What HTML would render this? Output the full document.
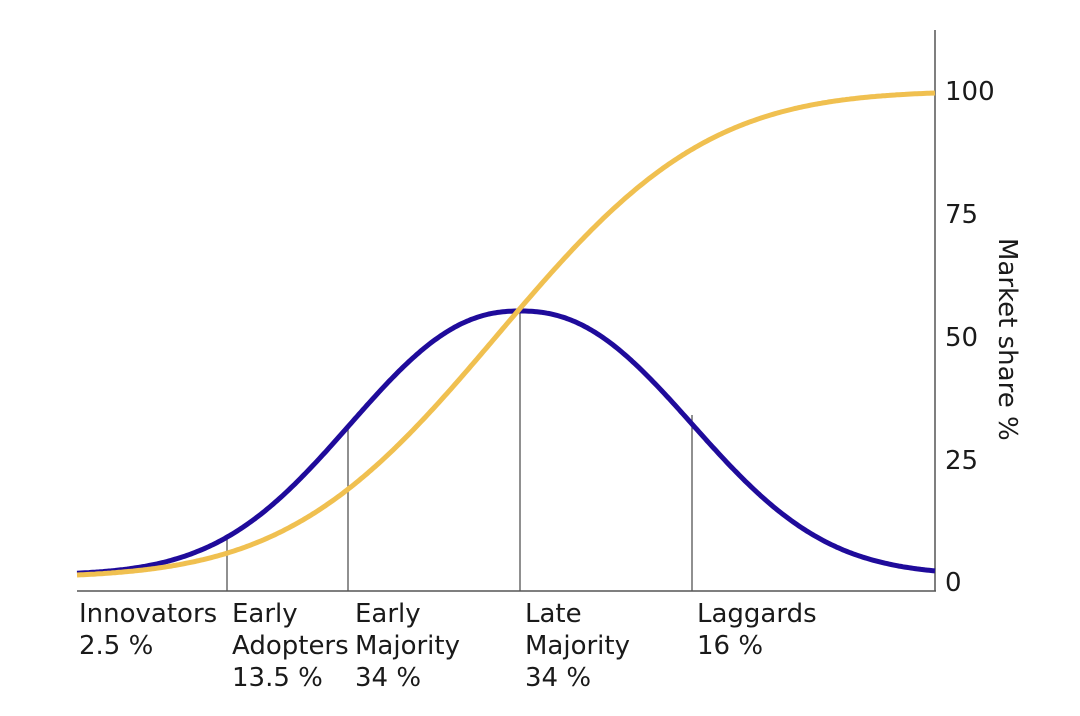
<!DOCTYPE html>
<html><head><meta charset="utf-8"><style>
html,body{margin:0;padding:0;background:#fff;}
svg{display:block;}
text{font-family:"DejaVu Sans","Liberation Sans",sans-serif;font-size:26px;fill:#1a1a1a;}
</style></head><body>
<svg id="s" width="1080" height="716" viewBox="0 0 1080 716" xmlns="http://www.w3.org/2000/svg">
<line x1="77" y1="591" x2="936" y2="591" stroke="#555" stroke-width="1.5"/>
<line x1="935" y1="30" x2="935" y2="591" stroke="#555" stroke-width="1.5"/>
<line x1="227" y1="535" x2="227" y2="591" stroke="#555" stroke-width="1.3"/>
<line x1="348" y1="425" x2="348" y2="591" stroke="#555" stroke-width="1.3"/>
<line x1="520" y1="311" x2="520" y2="591" stroke="#555" stroke-width="1.3"/>
<line x1="692" y1="415" x2="692" y2="591" stroke="#555" stroke-width="1.3"/>
<path id="bell" fill="none" stroke="#1f0b9b" stroke-width="5"/>
<path id="scurve" fill="none" stroke="#f0c050" stroke-width="5"/>
<text x="945" y="100">100</text>
<text x="945" y="223">75</text>
<text x="945" y="346">50</text>
<text x="945" y="469">25</text>
<text x="945" y="591">0</text>
<text transform="translate(999,238) rotate(90)">Market share %</text>
<text x="79" y="622">Innovators</text><text x="79" y="654">2.5 %</text>
<text x="232" y="622">Early</text><text x="232" y="654">Adopters</text><text x="232" y="686">13.5 %</text>
<text x="355" y="622">Early</text><text x="355" y="654">Majority</text><text x="355" y="686">34 %</text>
<text x="525" y="622">Late</text><text x="525" y="654">Majority</text><text x="525" y="686">34 %</text>
<text x="697" y="622">Laggards</text><text x="697" y="654">16 %</text>
</svg>
<script>
function erf(x){var s=x<0?-1:1;x=Math.abs(x);var t=1/(1+0.3275911*x);
var y=1-((((1.061405429*t-1.453152027)*t+1.421413741)*t-0.284496736)*t+0.254829592)*t*Math.exp(-x*x);return s*y;}
function Phi(z){return 0.5*(1+erf(z/Math.SQRT2));}
var P0=Phi((77-498)/165),P1=Phi((935-498)/165);
var b="",c="";
for(var x=77;x<=935;x+=2){
 var d=x-520, a=d<0?219:222;
 var yb=575-264*Math.exp(-Math.pow(Math.abs(d)/a,2.28));
 var ys=575-482*(Phi((x-498)/165)-P0)/(P1-P0);
 b+=(x==77?"M":"L")+x+","+yb.toFixed(1);
 c+=(x==77?"M":"L")+x+","+ys.toFixed(1);
}
document.getElementById("bell").setAttribute("d",b);
document.getElementById("scurve").setAttribute("d",c);
</script>
</body></html>
